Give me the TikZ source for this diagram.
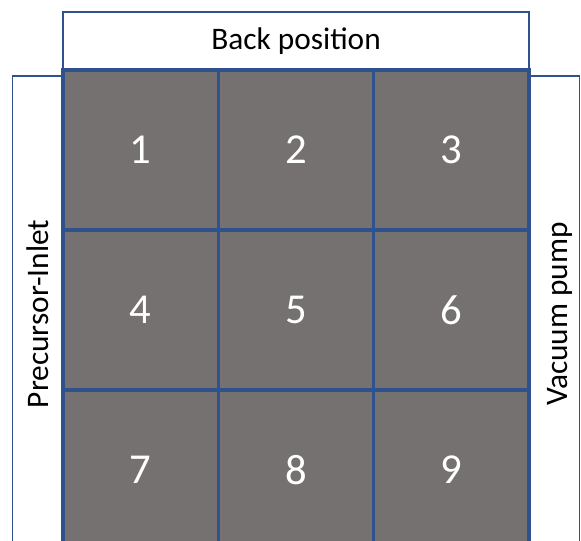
\documentclass[tikz,border=0pt]{standalone}
\usepackage{fontspec}
\setmainfont{Carlito}
\usetikzlibrary{positioning}

\definecolor{frameblue}{HTML}{2F528F}
\definecolor{slotgray}{HTML}{767171}

\tikzset{
  slot/.style={draw=frameblue, line width=2.6pt, fill=slotgray, text=white,
    minimum width=116.5pt, minimum height=120pt, inner sep=0pt,
    font=\fontsize{32}{36}\selectfont},
  sidebox/.style={draw=frameblue, line width=1.3pt, fill=white, inner sep=0pt,
    font=\fontsize{23.5}{27}\selectfont}
}

\begin{document}
\begin{tikzpicture}[x=0.75pt, y=-0.75pt]

    % Page frame (pixel units)
    \useasboundingbox (0,0) rectangle (581,541);
    \clip (0,0) rectangle (581,541);

    % Parameters for the sample slots
    \def\xa{63}
    \def\cw{155.33}
    \def\ya{70}
    \def\ch{160}

    % Side boxes
    \node[sidebox, minimum width=349.5pt, minimum height=43.5pt] (back) at (296,41) {Back position};
    \node[sidebox, minimum width=37.9pt, minimum height=357pt] (inlet) at (37.75,314)
        {\rotatebox{90}{Precursor-Inlet}};
    \node[sidebox, minimum width=37.9pt, minimum height=357pt] (pump) at (554.25,314)
        {\rotatebox{90}{\raisebox{-4pt}[\height][\depth]{Vacuum pump}}};

    % 3x3 grid of numbered slots
    \foreach \r in {0,1,2} {
        \foreach \c in {0,1,2} {
            \pgfmathtruncatemacro{\n}{3*\r+\c+1}
            \node[slot] (s\n) at ({\xa+(\c+0.5)*\cw},{\ya+(\r+0.5)*\ch}) {\n};
        }
    }

\end{tikzpicture}
\end{document}
